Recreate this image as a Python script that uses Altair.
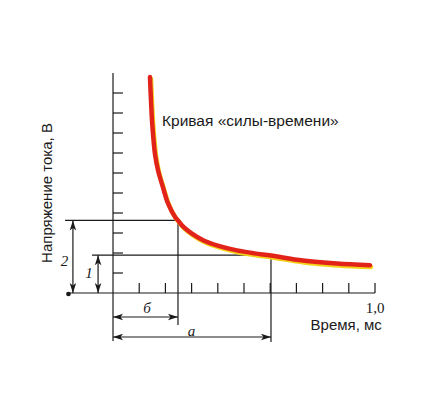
import altair as alt
import pandas as pd

# curve (time ms, voltage units)
curve_t = [0.141, 0.145, 0.149, 0.155, 0.160, 0.172, 0.191, 0.210, 0.237, 0.248, 0.267,
           0.300, 0.344, 0.400, 0.473, 0.540, 0.603, 0.725, 0.855, 0.981]
curve_v = [10.8, 9.6, 8.6, 7.6, 6.97, 6.12, 5.27, 4.48, 3.8, 3.63, 3.33,
           2.98, 2.64, 2.37, 2.13, 1.98, 1.87, 1.62, 1.47, 1.39]

chronaxie = 0.248      # б
useful_time = 0.603    # a
rheobase = 1.89        # 1
double_rheo = 3.63     # 2

x_ticks = [0.1, 0.2, 0.3, 0.4, 0.5, 0.6, 0.7, 0.8, 0.9, 1.0]
y_ticks = [1, 2, 3, 4, 5, 6, 7, 8, 9, 10]

W, H = 410, 382
xs = alt.Scale(domain=[-0.4008, 1.1641], nice=False, zero=False)
ys = alt.Scale(domain=[-4.85, 14.25], nice=False, zero=False)
X = lambda f: alt.X(f, scale=xs, axis=None)
Y = lambda f: alt.Y(f, scale=ys, axis=None)

segs = [
    dict(x=0, x2=0, y=-2.4, y2=11),
    dict(x=-0.176, x2=1.0, y=0, y2=0),
    dict(x=-0.183, x2=chronaxie, y=double_rheo, y2=double_rheo),
    dict(x=-0.08, x2=useful_time, y=rheobase, y2=rheobase),
    dict(x=chronaxie, x2=chronaxie, y=-1.6, y2=double_rheo),
    dict(x=useful_time, x2=useful_time, y=-2.45, y2=rheobase),
    dict(x=0, x2=chronaxie, y=-1.2, y2=-1.2),
    dict(x=0, x2=useful_time, y=-2.2, y2=-2.2),
    dict(x=-0.153, x2=-0.153, y=0, y2=double_rheo),
    dict(x=-0.057, x2=-0.057, y=0, y2=rheobase),
]
for t in x_ticks:
    segs.append(dict(x=t, x2=t, y=0, y2=0.5))
for v in y_ticks:
    segs.append(dict(x=0, x2=0.038, y=v, y2=v))
seg_df = pd.DataFrame(segs)

rules = alt.Chart(seg_df).mark_rule(color="#1a1a1a", strokeWidth=1.2).encode(
    x=X("x:Q"), x2="x2:Q", y=Y("y:Q"), y2="y2:Q")

arrows = pd.DataFrame([
    dict(x=0, y=-1.2, a=180), dict(x=chronaxie, y=-1.2, a=0),
    dict(x=0, y=-2.2, a=180), dict(x=useful_time, y=-2.2, a=0),
    dict(x=-0.153, y=0, a=90), dict(x=-0.153, y=double_rheo, a=270),
    dict(x=-0.057, y=0, a=90), dict(x=-0.057, y=rheobase, a=270),
])
heads = alt.Chart(arrows).mark_point(
    shape="M0,0 L-2,-0.65 L-1.5,0 L-2,0.65 Z", filled=True, color="#1a1a1a",
    size=100, opacity=1, strokeWidth=0).encode(
    x=X("x:Q"), y=Y("y:Q"), angle=alt.Angle("a:Q", scale=None))

blob = alt.Chart(pd.DataFrame({"x": [-0.17], "y": [-0.05]})).mark_point(
    filled=True, color="#1a1a1a", size=22, opacity=1).encode(x=X("x:Q"), y=Y("y:Q"))

cdf = pd.DataFrame({"t": curve_t, "v": curve_v})
cdf["vs"] = cdf["v"] - 0.09
cdf["ts"] = cdf["t"] + 0.004
shadow = alt.Chart(cdf).mark_line(color="#f3d21c", strokeWidth=4.5, interpolate="catmull-rom",
                                  strokeCap="round").encode(
    x=X("ts:Q"), y=Y("vs:Q"), order="t:Q")
curve = alt.Chart(cdf).mark_line(color="#e2231a", strokeWidth=4.5, interpolate="catmull-rom",
                                 strokeCap="round").encode(
    x=X("t:Q"), y=Y("v:Q"), order="t:Q")

upright = pd.DataFrame([dict(x=1.0, y=-0.75, s="1,0")])
italic = pd.DataFrame([
    dict(x=0.13, y=-0.75, s="б"),
    dict(x=0.30, y=-1.9, s="a"),
    dict(x=-0.185, y=1.6, s="2"),
    dict(x=-0.092, y=1.0, s="1"),
])
serif1 = alt.Chart(upright).mark_text(font="Liberation Serif", fontSize=15,
                                      color="#1a1a1a", baseline="middle").encode(
    x=X("x:Q"), y=Y("y:Q"), text="s:N")
serif2 = alt.Chart(italic).mark_text(font="Liberation Serif", fontSize=15, fontStyle="italic",
                                     color="#1a1a1a", baseline="middle").encode(
    x=X("x:Q"), y=Y("y:Q"), text="s:N")

title_curve = alt.Chart(pd.DataFrame({"x": [0.187], "y": [8.6], "s": ["Кривая «силы-времени»"]})).mark_text(
    font="Liberation Sans", fontSize=15.5, color="#1a1a1a", align="left", baseline="middle").encode(
    x=X("x:Q"), y=Y("y:Q"), text="s:N")

xlab = alt.Chart(pd.DataFrame({"x": [1.026], "y": [-1.6], "s": ["Время, мс"]})).mark_text(
    font="Liberation Sans", fontSize=15, color="#1a1a1a", align="right", baseline="middle").encode(
    x=X("x:Q"), y=Y("y:Q"), text="s:N")

ylab = alt.Chart(pd.DataFrame({"x": [-0.251], "y": [5.0], "s": ["Напряжение тока, В"]})).mark_text(
    font="Liberation Sans", fontSize=15, color="#1a1a1a", align="center", baseline="middle",
    angle=270).encode(x=X("x:Q"), y=Y("y:Q"), text="s:N")

chart = alt.layer(rules, heads, blob, shadow, curve, serif1, serif2, title_curve, xlab, ylab).properties(
    width=W, height=H, autosize=alt.AutoSizeParams(type="none"), padding=0,
    background="white").configure_view(stroke=None)

chart.save("out.html", embed_options={"renderer": "svg", "actions": False})
